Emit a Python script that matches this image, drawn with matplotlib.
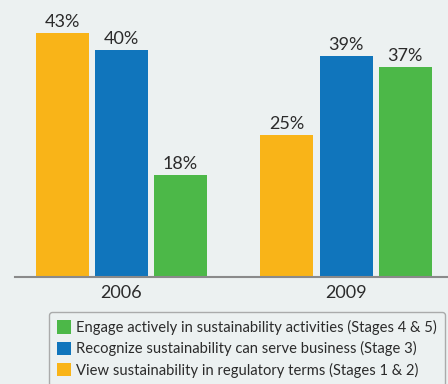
import numpy as np
import matplotlib.pyplot as plt
from matplotlib.patches import Patch

years = ['2006', '2009']
series_names = ['View sustainability in regulatory terms (Stages 1 & 2)',
                'Recognize sustainability can serve business (Stage 3)',
                'Engage actively in sustainability activities (Stages 4 & 5)']
regulatory = [43, 25]
business = [40, 39]
engage = [18, 37]
colors = ['#F9B418', '#1075BC', '#4CB848']

bg = '#ECF1F1'
txt = '#2B2B2B'
plt.rcParams['font.family'] = ['Lato', 'DejaVu Sans']

fig = plt.figure(figsize=(4.48, 3.84), dpi=100, facecolor=bg)
ax = fig.add_axes([15 / 448, 107 / 384, 433 / 448, 277 / 384])
ax.set_facecolor(bg)

x = np.arange(len(years))
width = 0.236
step = 0.263
for i, (vals, c) in enumerate(zip([regulatory, business, engage], colors)):
    pos = x + (i - 1) * step
    bars = ax.bar(pos, vals, width, color=c, zorder=2)
    for b, v in zip(bars, vals):
        ax.text(b.get_x() + b.get_width() / 2, v + 0.5, f'{v}%',
                ha='center', va='bottom', fontsize=13, color=txt)

ax.set_xlim(-0.474, 1.454)
ax.set_ylim(0, 48.8)
for s in ['top', 'right', 'left']:
    ax.spines[s].set_visible(False)
ax.spines['bottom'].set_color('#8A8A8A')
ax.spines['bottom'].set_linewidth(1.5)
ax.set_yticks([])
ax.set_xticks(x)
ax.set_xticklabels(years, fontsize=13, color=txt)
ax.tick_params(axis='x', length=0, pad=6)

handles = [Patch(facecolor=colors[i], label=series_names[i]) for i in [2, 1, 0]]
leg = fig.legend(handles=handles, loc='upper left', bbox_to_anchor=(49 / 448, 1 - 312 / 384),
                 borderaxespad=0, frameon=True, fontsize=10.6, handlelength=0.95,
                 handleheight=1.05, handletextpad=0.35, labelspacing=0.42, borderpad=0.55,
                 labelcolor=txt, fancybox=True)
leg.get_frame().set_facecolor(bg)
leg.get_frame().set_edgecolor('#9A9A9A')
leg.get_frame().set_linewidth(1.0)

fig.savefig('out.png', dpi=100, facecolor=bg)
